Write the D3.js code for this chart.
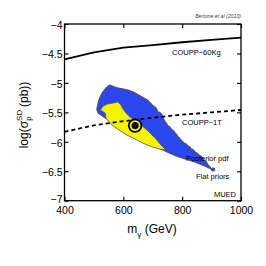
<!DOCTYPE html>
<html><head><meta charset="utf-8">
<script src="https://cdn.jsdelivr.net/npm/d3@7"></script>
<style>body{margin:0;background:#fff}svg{display:block}text{font-family:"Liberation Sans",Arial,sans-serif}</style>
</head><body><svg id="c" width="266" height="266"></svg>
<script>
const xTicks=[400,600,800,1000];
const yTicks=[-4,-4.5,-5,-5.5,-6,-6.5,-7];
const coupp60Mass=[400,500,600,700,800,900,1000];
const coupp60Val=[-4.6,-4.48,-4.4,-4.36,-4.31,-4.27,-4.23];
const coupp1tMass=[400,500,600,700,800,900,1000];
const coupp1tVal=[-5.83,-5.72,-5.65,-5.59,-5.54,-5.50,-5.46];
const blueMass=[554,575,596,616,640,664,682,698,710,718,724,732,736,742,746,752,756,766,770,776,780,786,790,796,800,806,812,820,826,830,836,844,850,857,866,874,882,888,894,898,880,860,835,810,780,749,720,691,665,640,605,572,540,514,510,512,517,522,528,541];
const blueVal=[-5.036,-5.08,-5.10,-5.121,-5.17,-5.239,-5.29,-5.375,-5.42,-5.494,-5.50,-5.545,-5.60,-5.664,-5.68,-5.732,-5.74,-5.80,-5.81,-5.85,-5.87,-5.919,-5.93,-5.97,-5.99,-6.02,-6.03,-6.071,-6.09,-6.12,-6.13,-6.173,-6.19,-6.224,-6.25,-6.309,-6.34,-6.394,-6.42,-6.462,-6.42,-6.377,-6.33,-6.292,-6.24,-6.173,-6.10,-6.02,-5.95,-5.868,-5.78,-5.681,-5.60,-5.511,-5.45,-5.392,-5.29,-5.23,-5.171,-5.087];
const yellowMass=[522,532,546,566,580,590,597,607,622,640,657,680,708,728,745,725,700,680,650,612,585,561,541,538];
const yellowVal=[-5.46,-5.392,-5.358,-5.341,-5.324,-5.358,-5.426,-5.50,-5.58,-5.64,-5.698,-5.80,-5.936,-6.054,-6.139,-6.122,-6.09,-6.054,-5.98,-5.885,-5.80,-5.715,-5.596,-5.511];
const bestFit={m:640,v:-5.725};
const flatPrior={m:905,v:-6.47};

const svg=d3.select("#c");
const L=64.5,R=241,T=24,B=200.7;
const x=d3.scaleLinear().domain([400,1000]).range([L,R]);
const y=d3.scaleLinear().domain([-7,-4]).range([B,T]);
const fmt=d=>String(d).replace("-","\u2212");

const poly=(ms,vs)=>d3.line().x(d=>x(d[0])).y(d=>y(d[1])).curve(d3.curveLinearClosed)(d3.zip(ms,vs));
svg.append("path").attr("d",poly(blueMass,blueVal)).attr("fill","#2d47ee").attr("stroke","#50506a").attr("stroke-width",1.2).attr("stroke-linejoin","round");
svg.append("path").attr("d",poly(yellowMass,yellowVal)).attr("fill","#f4f400").attr("stroke","#50506a").attr("stroke-width",0.8);

const ln=d3.line().x(d=>x(d[0])).y(d=>y(d[1]));
svg.append("path").attr("d",ln(d3.zip(coupp60Mass,coupp60Val))).attr("fill","none").attr("stroke","#000").attr("stroke-width",1.8);
svg.append("path").attr("d",ln(d3.zip(coupp1tMass,coupp1tVal))).attr("fill","none").attr("stroke","#000").attr("stroke-width",1.8).attr("stroke-dasharray","4,3");

svg.append("circle").attr("cx",x(bestFit.m)).attr("cy",y(bestFit.v)).attr("r",6.3).attr("fill","#f4f400").attr("stroke","#000").attr("stroke-width",1.8);
svg.append("circle").attr("cx",x(bestFit.m)).attr("cy",y(bestFit.v)).attr("r",3.6).attr("fill","#000");
svg.append("circle").attr("cx",x(flatPrior.m)).attr("cy",y(flatPrior.v)).attr("r",1.8).attr("fill","#2d47ee").attr("stroke","#333").attr("stroke-width",0.5);

// frame
svg.append("rect").attr("x",L).attr("y",T).attr("width",R-L).attr("height",B-T).attr("fill","none").attr("stroke","#000").attr("stroke-width",1.3);
const tl=4;
const bx=svg.append("g").attr("transform",`translate(0,${B})`).call(d3.axisBottom(x).tickValues(xTicks).tickSize(-tl).tickPadding(6).tickFormat(fmt));
const tx=svg.append("g").attr("transform",`translate(0,${T})`).call(d3.axisTop(x).tickValues(xTicks).tickSize(-tl).tickFormat(""));
const ly=svg.append("g").attr("transform",`translate(${L},0)`).call(d3.axisLeft(y).tickValues(yTicks).tickSize(-tl).tickPadding(2).tickFormat(fmt));
const ry=svg.append("g").attr("transform",`translate(${R},0)`).call(d3.axisRight(y).tickValues(yTicks).tickSize(-tl).tickFormat(""));
[bx,tx,ly,ry].forEach(g=>{g.select(".domain").remove();g.selectAll("line").attr("stroke","#000").attr("stroke-width",1.1);g.selectAll("text").attr("font-size",10.5).attr("fill","#000").attr("font-family","Liberation Sans, Arial, sans-serif");});
bx.selectAll("text").attr("dy","0.71em");
ly.selectAll("text").attr("dy",d=>d===-7?"0.2em":"0.4em");

// labels
const t=(s,xx,yy,o={})=>svg.append("text").attr("x",xx).attr("y",yy).attr("font-size",o.fs||7.5).attr("fill",o.c||"#000").attr("text-anchor",o.a||"start").attr("font-style",o.i?"italic":null).text(s);
t("Bertone et al (2010)",241,18,{fs:5.2,c:"#444",a:"end",i:1});
t("COUPP\u221260Kg",172,55);
t("COUPP\u22121T",182,125);
t("Posterior pdf",186,161);
t("Flat priors",196,178.5);
t("MUED",236,196.5,{a:"end"});

const xl=svg.append("text").attr("x",152).attr("y",233).attr("text-anchor","middle").attr("font-size",12);
xl.append("tspan").text("m");
xl.append("tspan").attr("font-size",8).attr("dy",4).text("\u03b3");
xl.append("tspan").attr("dy",-4).text(" (GeV)");

const yl=svg.append("text").attr("transform","translate(28,115) rotate(-90)").attr("text-anchor","middle").attr("font-size",12);
yl.append("tspan").text("log(\u03c3");
yl.append("tspan").attr("font-size",8).attr("dy",-6).text("SD");
yl.append("tspan").attr("font-size",8).attr("dx",-11).attr("dy",9).text("p");
yl.append("tspan").attr("dx",6).attr("dy",-3).text(" (pb))");
</script></body></html>
